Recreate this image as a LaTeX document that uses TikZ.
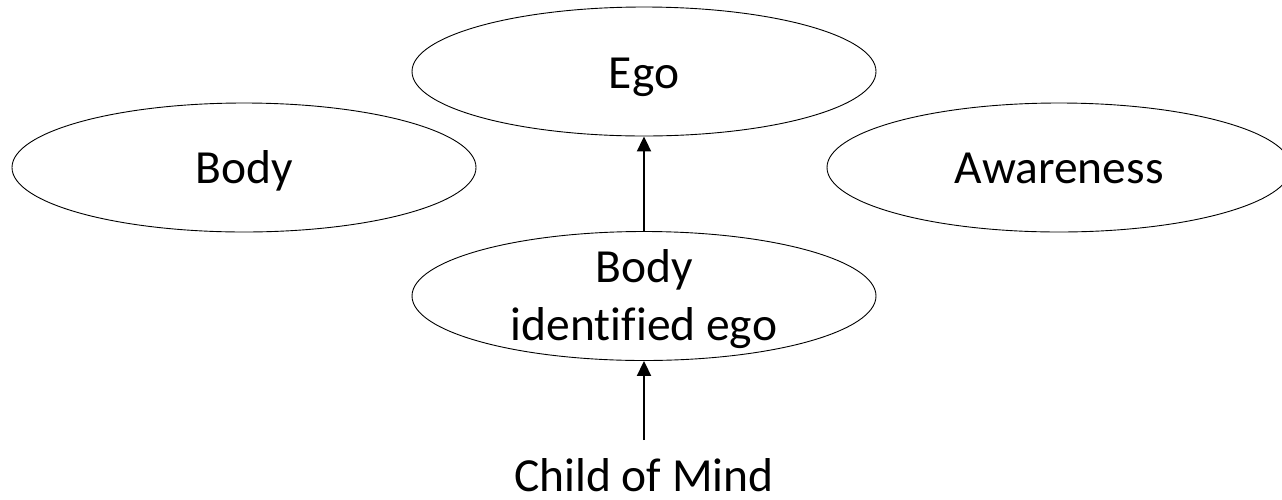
\documentclass[tikz,border=0pt]{standalone}
\usepackage{fontspec}
\setmainfont{Carlito}[Ligatures=NoCommon]
\usetikzlibrary{shapes.geometric,arrows.meta}
\begin{document}
\begin{tikzpicture}[x=1pt,y=-1pt,
  oval/.style={draw=black,line width=0.9pt,ellipse,minimum width=464pt,minimum height=129pt,inner sep=0pt},
  txt/.style={font=\fontsize{47.5pt}{58pt}\selectfont,inner sep=0pt,align=center},
  conn/.style={line width=2pt,-{Triangle[width=14pt,length=15pt]}}]
\useasboundingbox (0,0) rectangle (1282,499);
\node[oval] (ego) at (644,71.5) {};
\node[oval] (body) at (244,167.5) {};
\node[oval] (aware) at (1059,167.5) {};
\node[oval] (bie) at (644,296) {};
\node[txt,anchor=base] (egot) at (644,88) {Ego};
\node[txt,anchor=base] (bodyt) at (244,183) {Body};
\node[txt,anchor=base] (awaret) at (1059,183) {Awareness};
\node[txt,anchor=base] (biet) at (644,340) {Body\\identified ego};
\node[txt,anchor=base,text depth=0pt] (child) at (644,491.5) {Child of Mind};
\coordinate (cstart) at (644,440);
\draw[conn] (bie.north) -- (ego.south);
\draw[conn] (cstart) -- (bie.south);
\end{tikzpicture}
\end{document}
